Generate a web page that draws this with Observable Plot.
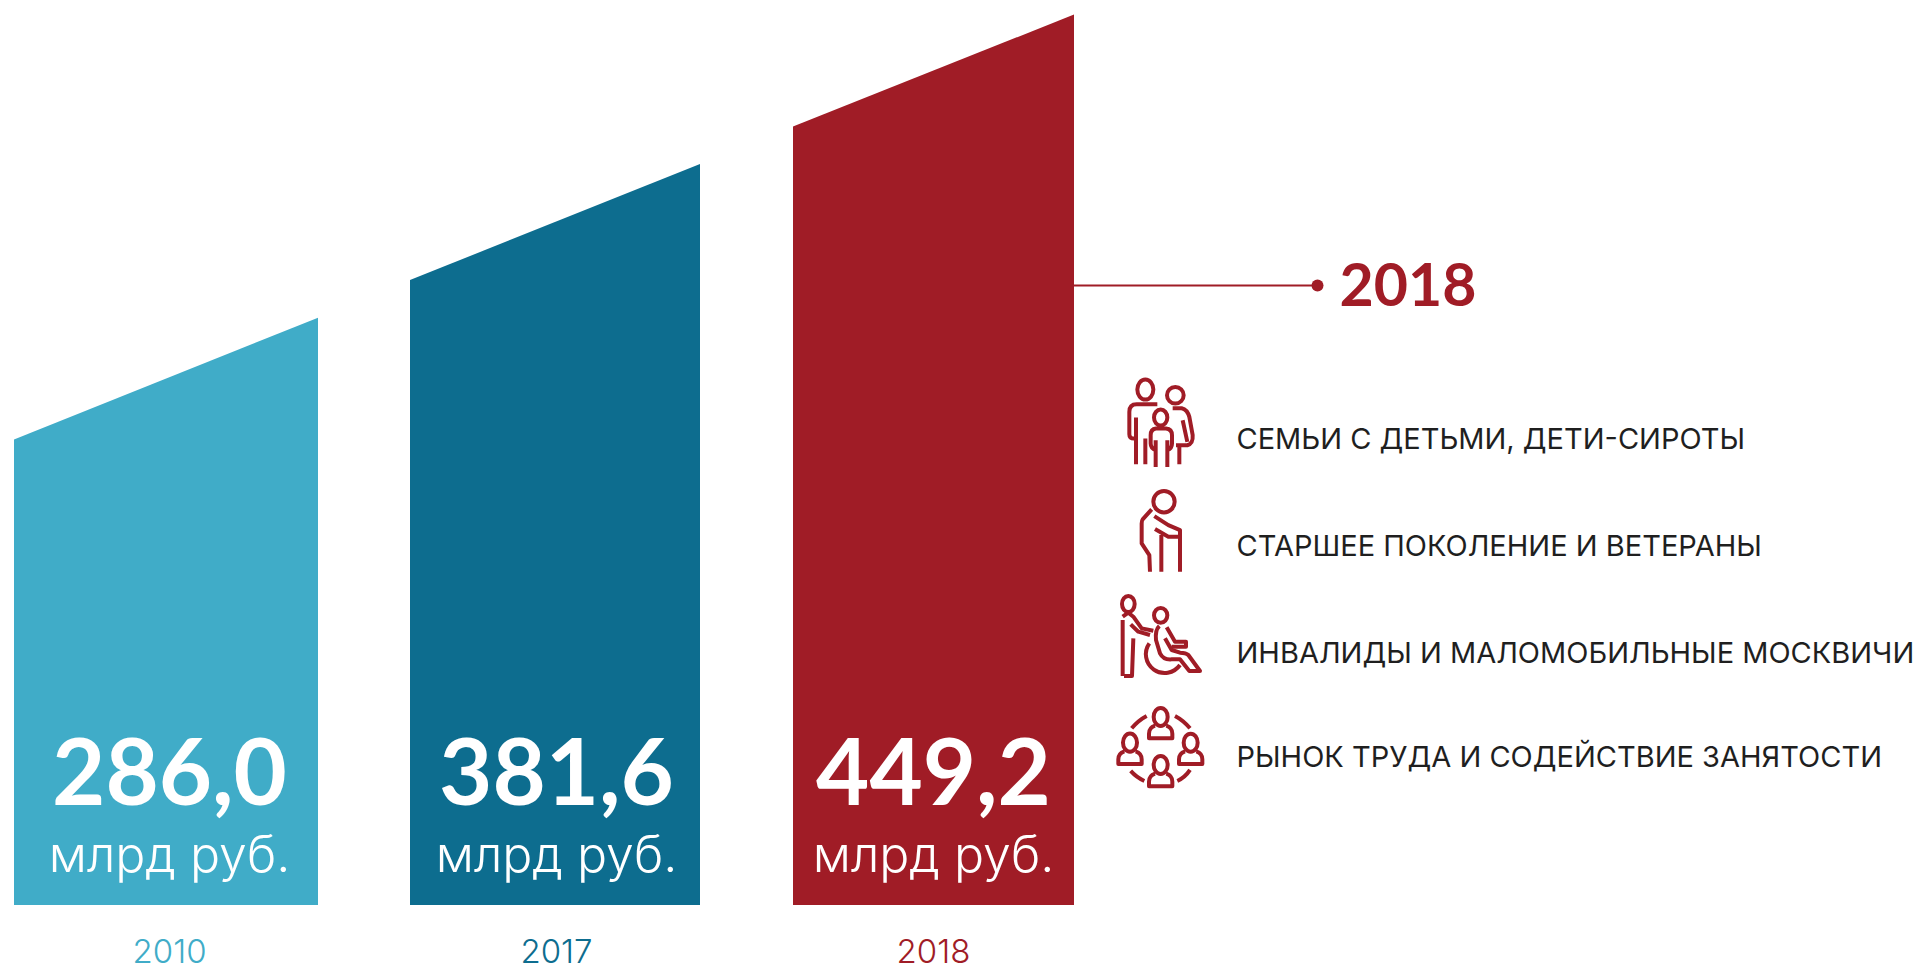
<!DOCTYPE html>
<html><head><meta charset="utf-8">
<style>html,body{margin:0;padding:0;background:#fff;overflow:hidden}svg{display:block}</style>
<script src="https://cdn.jsdelivr.net/npm/d3@7"></script>
<script src="https://cdn.jsdelivr.net/npm/@observablehq/plot@0.6"></script>
</head><body><div id="c"></div>
<script>
const years = ["2010", "2017", "2018"];
const values = ["286,0", "381,6", "449,2"];
const unit = "млрд руб.";
const topLeft = [235, 315.5, 393];
const topRight = [296.5, 374, 449.5];
const barStart = [14, 410, 793];
const barEnd = [318, 700, 1074];
const colors = ["#40acc8", "#0d6d8f", "#a01c26"];
const labelCenter = [169, 556, 933];
const groups = [
  "СЕМЬИ С ДЕТЬМИ, ДЕТИ-СИРОТЫ",
  "СТАРШЕЕ ПОКОЛЕНИЕ И ВЕТЕРАНЫ",
  "ИНВАЛИДЫ И МАЛОМОБИЛЬНЫЕ МОСКВИЧИ",
  "РЫНОК ТРУДА И СОДЕЙСТВИЕ ЗАНЯТОСТИ"
];
const groupLevel = [235, 181, 127, 74.5];

const bars = years.flatMap((year, i) => [
  {year, x: barStart[i], top: topLeft[i], color: colors[i]},
  {year, x: barEnd[i], top: topRight[i], color: colors[i]}
]);
const FONT = "Inter, sans-serif";
const BOLD = "Lato, sans-serif";
const RED = colors[2];
const bust = (cx, cy) => `M${cx-21},${cy}a21,27 0 1 1 42,0a21,27 0 1 1 -42,0M${cx-17},${cy+26}Q${cx-35},${cy+32} ${cx-35},${cy+50}V${cy+64}H${cx+35}V${cy+50}Q${cx+35},${cy+32} ${cx+17},${cy+26}`;
const icons = [
  {x: 1100, level: 275, d: [
    "M112,88a24,30 0 1 1 48,0a24,30 0 1 1 -48,0",
    "M172,132H110Q88,132 88,155V222Q88,235 102,235M108,172V312M136,235V312",
    "M201,105a25,25 0 1 1 50,0a25,25 0 1 1 -50,0",
    "M218,144H245Q262,148 268,170L278,225Q280,250 262,255H228M248,180L262,245M238,255V312",
    "M162,172a20,24 0 1 1 40,0a20,24 0 1 1 -40,0",
    "M168,270Q152,265 152,250V225Q152,207 168,205H198Q216,207 216,225V250Q216,265 202,270M167,240V320M202,240V320"
  ]},
  {x: 1100, level: 214.5, d: [
    "M160,65a32,32 0 1 1 64,0a32,32 0 1 1 -64,0",
    "M155,88L128,118Q125,122 125,130V190L148,225L150,275",
    "M163,108L205,135L240,150V275",
    "M165,147L205,170H240M184,165V275"
  ]},
  {x: 1100, level: 159, d: [
    "M66,42a19,24 0 1 1 38,0a19,24 0 1 1 -38,0",
    "M72,258H96L100,145M68,90V258M68,80L85,68L100,80L125,115L160,122M92,103L115,125L150,135",
    "M162,76a20,22 0 1 1 40,0a20,22 0 1 1 -40,0",
    "M178,108Q165,120 168,150L180,190Q190,210 215,208H240L268,243H300L265,195Q258,188 240,188L215,180L195,145",
    "M200,112L225,155H258V170H215",
    "M148,160A50,50 0 1 0 240,225"
  ]},
  {x: 1100, level: 103, d: [
    bust(182, 48), bust(90, 125), bust(272, 125), bust(182, 192),
    "M95,82Q115,58 140,45M225,45Q250,58 270,82M92,210Q110,230 133,240M232,240Q255,230 270,207"
  ]}
];
const iconMark = (index, {x, y}) => {
  const g = d3.create("svg:g").attr("fill", "none").attr("stroke", RED)
    .attr("stroke-width", 12).attr("stroke-linejoin", "round");
  for (const icon of icons) {
    const ig = g.append("g").attr("transform", `translate(${x(icon.x)},${y(icon.level)}) scale(${1/3})`);
    for (const d of icon.d) ig.append("path").attr("d", d);
  }
  return g.node();
};
const chart = Plot.plot({
  width: 1924, height: 970,
  margin: 0,
  x: {domain: [0, 1924], range: [0, 1924], axis: null},
  y: {domain: [-32.81, 456.84], range: [970, 0], axis: null},
  style: {background: "#fff"},
  marks: [
    Plot.areaY(bars, {x: "x", y1: 0, y2: "top", z: "year", fill: "color", curve: "linear"}),
    Plot.text(values, {x: (d, i) => labelCenter[i], y: 0, dy: -130, text: d => d, fill: "#fff",
      fontFamily: BOLD, fontWeight: 700, fontSize: 92, textAnchor: "middle"}),
    Plot.text(values, {x: (d, i) => labelCenter[i], y: 0, dy: -50, text: () => unit, fill: "#fff",
      fontFamily: FONT, fontWeight: 300, fontSize: 50, textAnchor: "middle"}),
    Plot.text(years, {x: (d, i) => labelCenter[i], y: 0, dy: 47, text: d => d, fill: (d, i) => colors[i],
      fontFamily: FONT, fontWeight: 300, fontSize: 33, textAnchor: "middle"}),
    Plot.ruleY([313], {x1: barEnd[2], x2: 1317, stroke: RED, strokeWidth: 2}),
    Plot.dot([313], {x: () => 1317, y: d => d, r: 6, fill: RED, stroke: "none"}),
    Plot.text(["2018"], {x: () => 1339, y: () => 312, text: d => d, fill: RED,
      fontFamily: BOLD, fontWeight: 700, fontSize: 59, textAnchor: "start"}),
    Plot.text(groups, {x: () => 1236, y: (d, i) => groupLevel[i], text: d => d, fill: "#1f1f1f",
      fontFamily: FONT, fontWeight: 400, fontSize: 29, textAnchor: "start"}),
    iconMark
  ]
});
document.getElementById("c").append(chart);
</script></body></html>
